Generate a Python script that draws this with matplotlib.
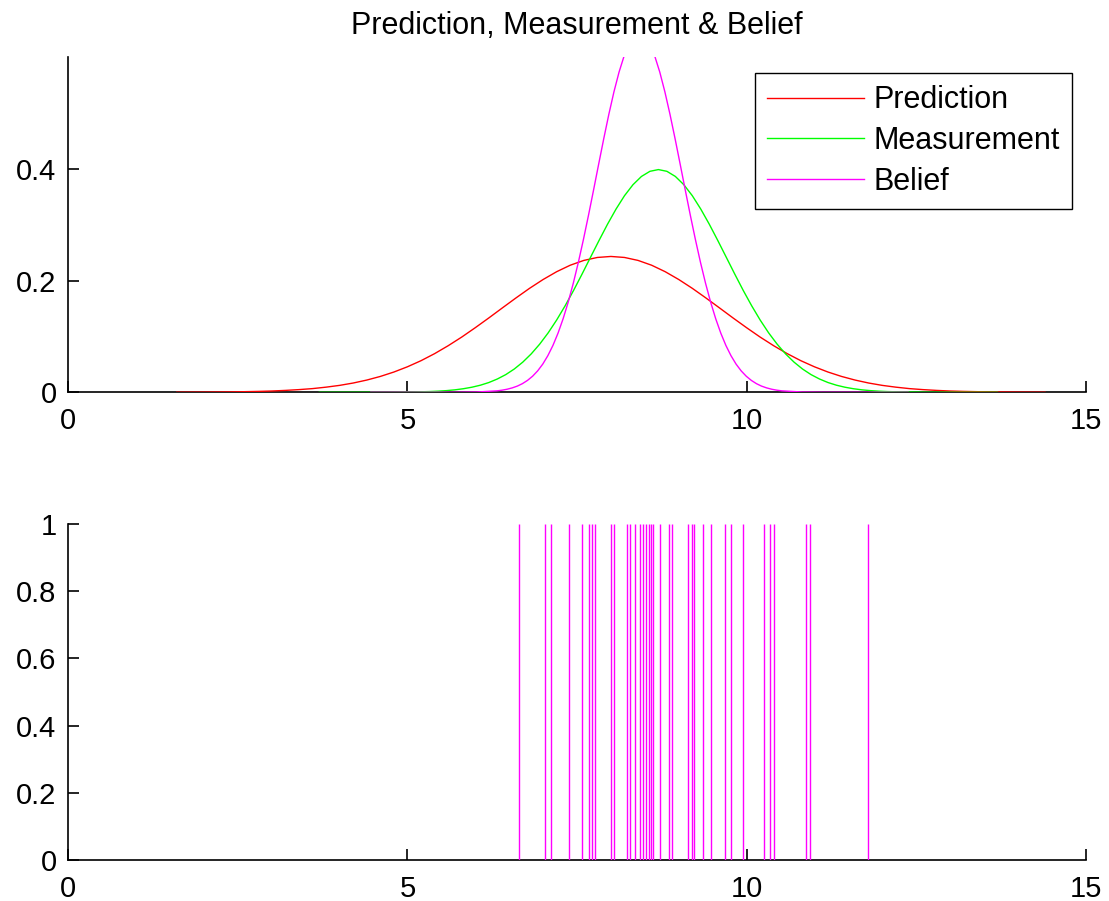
import matplotlib
matplotlib.use("Agg")
import matplotlib.pyplot as plt

plt.rcParams['font.family'] = ['Liberation Sans', 'DejaVu Sans']
plt.rcParams['font.size'] = 22

# prediction curve (red)
pred_x = [1.6, 1.8, 2.0, 2.2, 2.4, 2.6, 2.8, 3.0, 3.2, 3.4, 3.6, 3.8, 4.0, 4.2, 4.4, 4.6,
          4.8, 5.0, 5.2, 5.4, 5.6, 5.8, 6.0, 6.2, 6.4, 6.6, 6.8, 7.0, 7.2, 7.4, 7.6, 7.8,
          8.0, 8.2, 8.4, 8.6, 8.8, 9.0, 9.2, 9.4, 9.6, 9.8, 10.0, 10.2, 10.4, 10.6, 10.8,
          11.0, 11.2, 11.4, 11.6, 11.8, 12.0, 12.2, 12.4, 12.6, 12.8, 13.0, 13.2, 13.4,
          13.6, 13.8, 14.0, 14.2, 14.4]
pred_y = [0.0001, 0.0002, 0.0003, 0.0005, 0.0007, 0.0011, 0.0016, 0.0023, 0.0034, 0.0048,
          0.0066, 0.0092, 0.0124, 0.0166, 0.0219, 0.0284, 0.0363, 0.0457, 0.0566, 0.0692,
          0.0834, 0.0989, 0.1157, 0.1332, 0.1512, 0.1690, 0.1862, 0.2020, 0.2160, 0.2276,
          0.2362, 0.2415, 0.2433, 0.2415, 0.2362, 0.2276, 0.2160, 0.2020, 0.1862, 0.1690,
          0.1512, 0.1332, 0.1157, 0.0989, 0.0834, 0.0692, 0.0566, 0.0457, 0.0363, 0.0284,
          0.0219, 0.0166, 0.0124, 0.0092, 0.0066, 0.0048, 0.0034, 0.0023, 0.0016, 0.0011,
          0.0007, 0.0005, 0.0003, 0.0002, 0.0001]

# measurement curve (green)
meas_x = [3.7, 4.7, 4.825, 4.95, 5.075, 5.2, 5.325, 5.45, 5.575, 5.7, 5.825, 5.95, 6.075,
          6.2, 6.325, 6.45, 6.575, 6.7, 6.825, 6.95, 7.075, 7.2, 7.325, 7.45, 7.575, 7.7,
          7.825, 7.95, 8.075, 8.2, 8.325, 8.45, 8.575, 8.7, 8.825, 8.95, 9.075, 9.2, 9.325,
          9.45, 9.575, 9.7, 9.825, 9.95, 10.075, 10.2, 10.325, 10.45, 10.575, 10.7, 10.825,
          10.95, 11.075, 11.2, 11.325, 11.45, 11.575, 11.7, 11.825, 11.95, 12.075, 12.2,
          12.325, 12.45, 12.575, 12.7, 13.7]
meas_y = [0.0, 0.0001, 0.0002, 0.0004, 0.0006, 0.0009, 0.0013, 0.0020, 0.0030, 0.0044,
          0.0064, 0.0091, 0.0127, 0.0175, 0.0238, 0.0317, 0.0417, 0.0540, 0.0688, 0.0863,
          0.1065, 0.1295, 0.1550, 0.1826, 0.2119, 0.2420, 0.2720, 0.3011, 0.3281, 0.3521,
          0.3718, 0.3866, 0.3958, 0.3989, 0.3958, 0.3866, 0.3718, 0.3521, 0.3281, 0.3011,
          0.2720, 0.2420, 0.2119, 0.1826, 0.1550, 0.1295, 0.1065, 0.0863, 0.0688, 0.0540,
          0.0417, 0.0317, 0.0238, 0.0175, 0.0127, 0.0091, 0.0064, 0.0044, 0.0030, 0.0020,
          0.0013, 0.0009, 0.0006, 0.0004, 0.0002, 0.0001, 0.0]

# belief curve (magenta)
bel_x = [4.46, 5.72, 6.02, 6.32, 6.395, 6.47, 6.545, 6.62, 6.695, 6.77, 6.845, 6.92, 6.995,
         7.07, 7.145, 7.22, 7.295, 7.37, 7.445, 7.52, 7.595, 7.67, 7.745, 7.82, 7.895, 7.97,
         8.045, 8.12, 8.195, 8.27, 8.345, 8.42, 8.495, 8.57, 8.645, 8.72, 8.795, 8.87, 8.945,
         9.02, 9.095, 9.17, 9.245, 9.32, 9.395, 9.47, 9.545, 9.62, 9.695, 9.77, 9.845, 9.92,
         9.995, 10.07, 10.145, 10.22, 10.295, 10.37, 10.445, 10.52, 10.82, 11.12, 12.38]
bel_y = [0.0, 0.0001, 0.0005, 0.0026, 0.0038, 0.0055, 0.0079, 0.0111, 0.0155, 0.0213,
         0.0288, 0.0384, 0.0505, 0.0656, 0.0839, 0.1059, 0.1317, 0.1615, 0.1953, 0.2329,
         0.2739, 0.3175, 0.3629, 0.4091, 0.4547, 0.4983, 0.5384, 0.5736, 0.6026, 0.6242,
         0.6375, 0.6420, 0.6375, 0.6242, 0.6026, 0.5736, 0.5384, 0.4983, 0.4547, 0.4091,
         0.3629, 0.3175, 0.2739, 0.2329, 0.1953, 0.1615, 0.1317, 0.1059, 0.0839, 0.0656,
         0.0505, 0.0384, 0.0288, 0.0213, 0.0155, 0.0111, 0.0079, 0.0055, 0.0038, 0.0026,
         0.0005, 0.0001, 0.0]

# particle positions shown as unit spikes
particles = [6.65, 7.03, 7.12, 7.38, 7.58, 7.67, 7.72, 7.76, 8.00, 8.05, 8.24, 8.28, 8.35,
             8.43, 8.47, 8.52, 8.56, 8.59, 8.62, 8.73, 8.85, 8.90, 9.14, 9.19, 9.23, 9.36,
             9.48, 9.68, 9.77, 9.94, 10.25, 10.34, 10.40, 10.88, 10.94, 11.79]

fig = plt.figure(figsize=(11.09, 9.01), dpi=100)
ax1 = fig.add_axes([0.0616, 0.5646, 0.9174, 0.3718])
ax2 = fig.add_axes([0.0616, 0.0455, 0.9174, 0.3729])

lw = 1.0
ax1.plot(pred_x, pred_y, color='#ff0000', lw=lw, label='Prediction', zorder=3)
ax1.plot(meas_x, meas_y, color='#00ff00', lw=lw, label='Measurement', zorder=3)
ax1.plot(bel_x, bel_y, color='#ff00ff', lw=lw, label='Belief', zorder=3)
ax1.set_xlim(0, 15)
ax1.set_ylim(0, 0.6)
ax1.set_xticks([0, 5, 10, 15])
ax1.set_yticks([0, 0.2, 0.4])
ax1.set_yticklabels(['0', '0.2', '0.4'])
ax1.set_title('Prediction, Measurement & Belief', fontsize=22, pad=16.5)
leg = ax1.legend(loc='upper right', bbox_to_anchor=(0.9865, 0.953), fancybox=False,
                 framealpha=1, edgecolor='black', handlelength=3.17, handletextpad=0.3,
                 labelspacing=0.35, borderpad=0.4, borderaxespad=0)
leg.get_frame().set_linewidth(1.0)

ax2.vlines(particles, 0, 1, color='#ff00ff', lw=1.0, zorder=3)
ax2.set_xlim(0, 15)
ax2.set_ylim(0, 1)
ax2.set_xticks([0, 5, 10, 15])
ax2.set_yticks([0, 0.2, 0.4, 0.6, 0.8, 1])
ax2.set_yticklabels(['0', '0.2', '0.4', '0.6', '0.8', '1'])

for ax in (ax1, ax2):
    ax.spines['top'].set_visible(False)
    ax.spines['right'].set_visible(False)
    ax.spines['left'].set_linewidth(1.2)
    ax.spines['bottom'].set_linewidth(1.2)
    ax.tick_params(direction='in', length=8, width=1.2, labelsize=21)
    ax.tick_params(axis='y', pad=8.5)
    ax.tick_params(axis='x', pad=10.5)

fig.savefig('out.png', dpi=100)
